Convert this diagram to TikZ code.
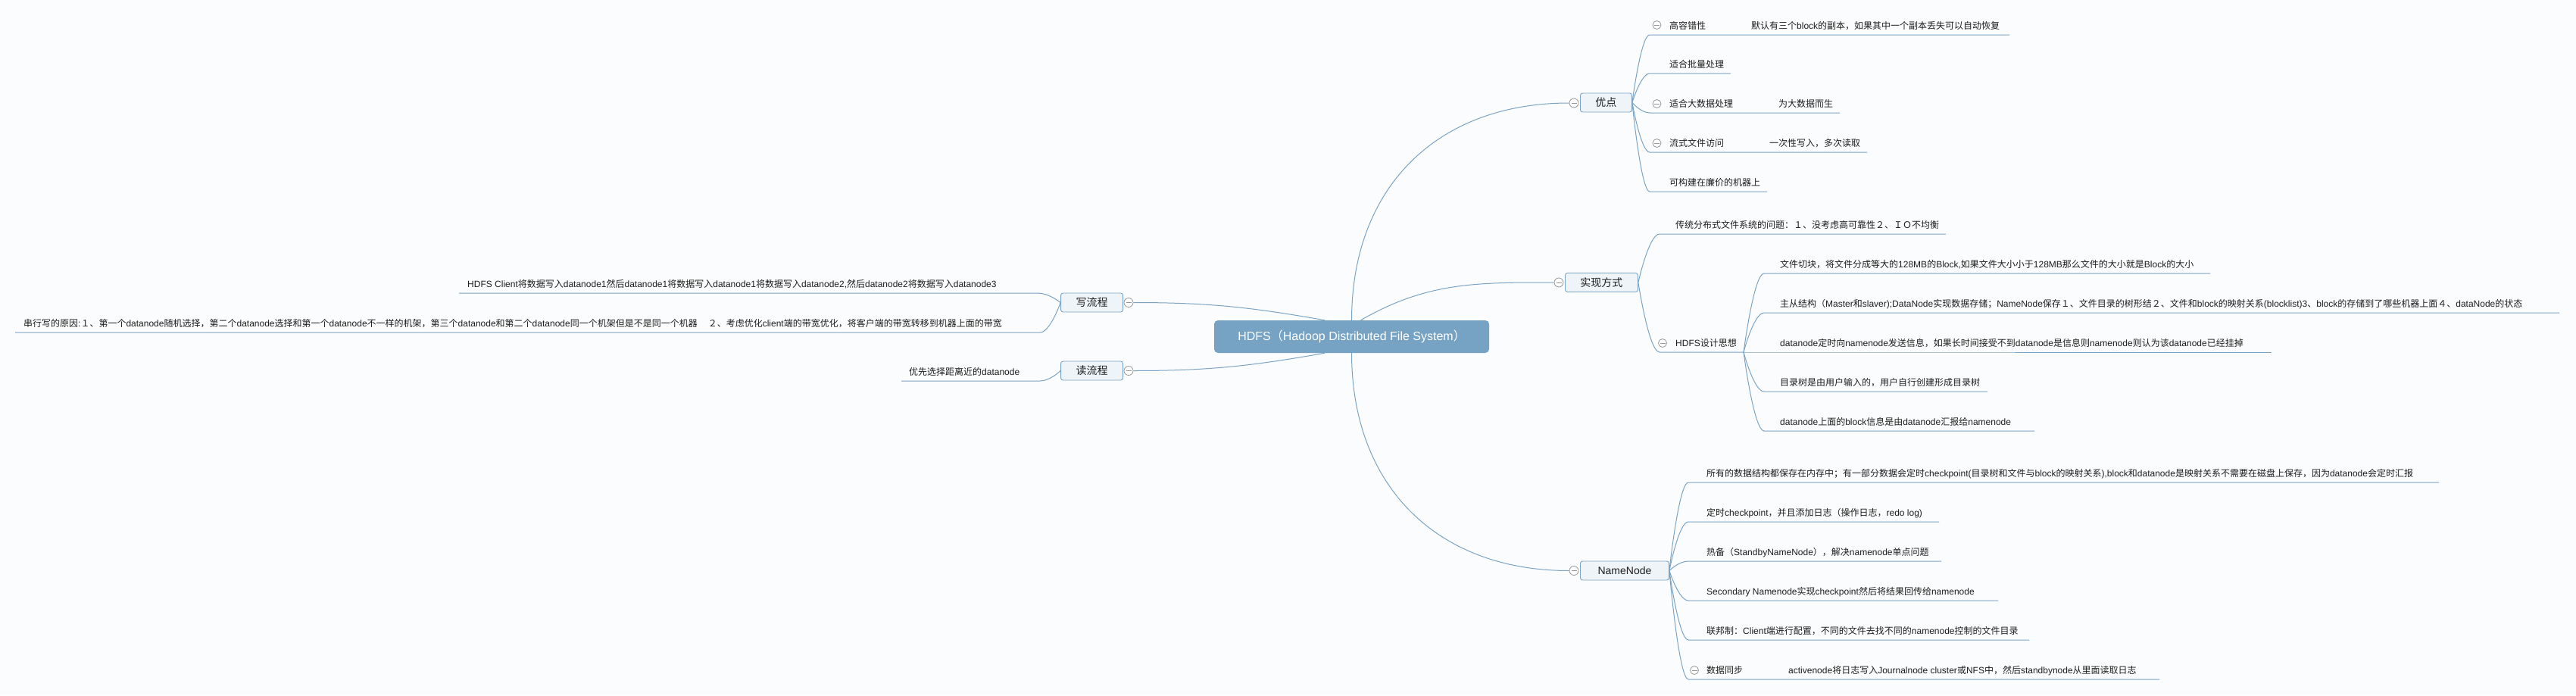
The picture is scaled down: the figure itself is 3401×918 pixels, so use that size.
\documentclass[tikz,border=0pt]{standalone}
\usepackage{fontspec}
\setmainfont{Liberation Sans}
\newfontfamily\cjkfont{Noto Sans CJK SC}
\newfontfamily\latinfont{Liberation Sans}
\XeTeXinterchartokenstate=1
\chardef\cjkclass=7
\newcount\cjkcode
\def\cjkrange#1#2{\cjkcode=#1\relax
  \loop\XeTeXcharclass\cjkcode=\cjkclass
  \advance\cjkcode by 1
  \ifnum\cjkcode<#2\repeat}
\cjkrange{"3000}{"3040}
\cjkrange{"4E00}{"A000}
\cjkrange{"FF00}{"FFF0}
\XeTeXinterchartoks 0 \cjkclass={\cjkfont}
\XeTeXinterchartoks 4095 \cjkclass={\cjkfont}
\XeTeXinterchartoks \cjkclass 0={\latinfont}
\XeTeXinterchartoks \cjkclass 4095={\latinfont}
\usepackage{tikz}
\usetikzlibrary{calc}
\definecolor{lnk}{RGB}{122,163,196}
\definecolor{hubc}{RGB}{118,163,195}
\definecolor{boxc}{RGB}{239,244,248}
\definecolor{ink}{RGB}{30,30,30}
\definecolor{bgc}{RGB}{251,252,253}
\definecolor{foldc}{RGB}{150,150,150}

\begin{document}
\begin{tikzpicture}[x=1pt,y=1pt,
  link/.style={draw=lnk,line width=1pt},
  hub/.style={fill=hubc,rounded corners=5pt,text=white,minimum width=363pt,minimum height=43pt,font=\fontsize{16}{18}\selectfont},
  topic/.style={draw=lnk,fill=boxc,rounded corners=3pt,line width=0.9pt,inner xsep=20pt,minimum height=25pt,text=ink,font=\fontsize{14}{16}\selectfont},
  fold/.style={circle,draw=foldc,fill=white,line width=0.8pt,minimum size=11pt,inner sep=0pt,
    path picture={\draw[foldc,line width=0.8pt] ([xshift=-3.5pt]path picture bounding box.center) -- ([xshift=3.5pt]path picture bounding box.center);}},
  leaf/.style={anchor=base west,inner sep=0pt,text=ink,font=\fontsize{12}{14}\selectfont},
  kid/.style={to path={.. controls (\tikztostart) and ($(\tikztotarget)!0.5!(\tikztostart|-\tikztotarget)$) .. (\tikztotarget) \tikztonodes}}]
\fill[bgc] (0,0) rectangle (3401,-918);
\useasboundingbox (0,0) rectangle (3401,-918);

\node[hub] (H) at (1784.5,-444.5) {HDFS（Hadoop Distributed File System）};

\node[fold,minimum size=12pt] (Yf) at (2078,-136) {};
\node[topic,anchor=west] (Y) at (2086,-135.5) {优点};
\node[fold,minimum size=12pt] (Sf) at (2058,-373) {};
\node[topic,anchor=west] (S) at (2066,-373) {实现方式};
\node[fold,minimum size=12pt] (Nf) at (2078,-753.5) {};
\node[topic,anchor=west,minimum width=117pt] (N) at (2086,-753.5) {NameNode};
\node[fold,minimum size=12pt] (Wf) at (1490,-399.5) {};
\node[topic,anchor=east] (W) at (1483,-399.5) {写流程};
\node[fold,minimum size=12pt] (Rf) at (1490,-489.5) {};
\node[topic,anchor=east] (R) at (1483,-489.5) {读流程};

\draw[link] (H.north) to[out=90,in=180,looseness=1.1] (Yf.west);
\draw[link] ([xshift=12pt]H.north) to[out=30,in=180] (Sf.west);
\draw[link] (H.south) to[out=-90,in=180,looseness=1.1] (Nf.west);
\draw[link] ([xshift=-35.5pt]H.north) to[out=170,in=0] (Wf.east);
\draw[link] ([xshift=-35.5pt]H.south) to[out=-170,in=0] (Rf.east);

\coordinate (Y1s) at (2178,-46); \coordinate (Y1e) at (2653,-46);
\coordinate (Y2s) at (2178,-97); \coordinate (Y2e) at (2285,-97);
\coordinate (Y3s) at (2178,-149); \coordinate (Y3e) at (2429,-149);
\coordinate (Y4s) at (2178,-201); \coordinate (Y4e) at (2465,-201);
\coordinate (Y5s) at (2178,-253); \coordinate (Y5e) at (2333,-253);
\draw[link] (Y.east) to[kid] (Y1s) -- (Y1e);
\draw[link] (Y.east) to[kid] (Y2s) -- (Y2e);
\draw[link] (Y.east) to[kid] (Y3s) -- (Y3e);
\draw[link] (Y.east) to[kid] (Y4s) -- (Y4e);
\draw[link] (Y.east) to[kid] (Y5s) -- (Y5e);
\node[fold] (Y1f) at (2187.5,-33) {};
\node[fold] (Y3f) at (2187.5,-137) {};
\node[fold] (Y4f) at (2187.5,-189) {};
\node[leaf] (Y1) at (2204,-38) {高容错性};
\node[leaf] (Y1a) at (2312,-38) {默认有三个block的副本，如果其中一个副本丢失可以自动恢复};
\node[leaf] (Y2) at (2204,-89) {适合批量处理};
\node[leaf] (Y3) at (2204,-141) {适合大数据处理};
\node[leaf] (Y3a) at (2348,-141) {为大数据而生};
\node[leaf] (Y4) at (2204,-193) {流式文件访问};
\node[leaf] (Y4a) at (2336,-193) {一次性写入，多次读取};
\node[leaf] (Y5) at (2204,-245) {可构建在廉价的机器上};

\coordinate (S1s) at (2191,-309); \coordinate (S1e) at (2569,-309);
\coordinate (S2s) at (2191,-465); \coordinate (S2e) at (2302,-465);
\draw[link] (S.east) to[kid] (S1s) -- (S1e);
\draw[link] (S.east) to[kid] (S2s) -- (S2e);
\node[fold] (S2f) at (2195,-453) {};
\node[leaf] (S1) at (2212,-301) {传统分布式文件系统的问题：１、没考虑高可靠性２、ＩＯ不均衡};
\node[leaf] (S2) at (2212,-457) {HDFS设计思想};

\coordinate (G1s) at (2329,-361); \coordinate (G1e) at (2918,-361);
\coordinate (G2s) at (2329,-413); \coordinate (G2e) at (3379,-413);
\coordinate (G3s) at (2329,-465); \coordinate (G3e) at (2999,-465);
\coordinate (G4s) at (2329,-517); \coordinate (G4e) at (2624,-517);
\coordinate (G5s) at (2329,-569); \coordinate (G5e) at (2686,-569);
\draw[link] (S2e) to[kid] (G1s) -- (G1e);
\draw[link] (S2e) to[kid] (G2s) -- (G2e);
\draw[link] (S2e) to[kid] (G3s) -- (G3e);
\draw[link] (S2e) to[kid] (G4s) -- (G4e);
\draw[link] (S2e) to[kid] (G5s) -- (G5e);
\node[leaf] (G1) at (2350,-353) {文件切块，将文件分成等大的128MB的Block,如果文件大小小于128MB那么文件的大小就是Block的大小};
\node[leaf] (G2) at (2350,-405) {主从结构（Master和slaver);DataNode实现数据存储；NameNode保存１、文件目录的树形结２、文件和block的映射关系(blocklist)3、block的存储到了哪些机器上面４、dataNode的状态};
\node[leaf] (G3) at (2350,-457) {datanode定时向namenode发送信息，如果长时间接受不到datanode是信息则namenode则认为该datanode已经挂掉};
\node[leaf] (G4) at (2350,-509) {目录树是由用户输入的，用户自行创建形成目录树};
\node[leaf] (G5) at (2350,-561) {datanode上面的block信息是由datanode汇报给namenode};

\coordinate (N1s) at (2229,-637); \coordinate (N1e) at (3220,-637);
\coordinate (N2s) at (2229,-689); \coordinate (N2e) at (2560,-689);
\coordinate (N3s) at (2229,-741); \coordinate (N3e) at (2563,-741);
\coordinate (N4s) at (2229,-793); \coordinate (N4e) at (2638,-793);
\coordinate (N5s) at (2229,-845); \coordinate (N5e) at (2679,-845);
\coordinate (N6s) at (2229,-897); \coordinate (N6e) at (2851,-897);
\draw[link] (N.east) to[kid] (N1s) -- (N1e);
\draw[link] (N.east) to[kid] (N2s) -- (N2e);
\draw[link] (N.east) to[kid] (N3s) -- (N3e);
\draw[link] (N.east) to[kid] (N4s) -- (N4e);
\draw[link] (N.east) to[kid] (N5s) -- (N5e);
\draw[link] (N.east) to[kid] (N6s) -- (N6e);
\node[fold] (N6f) at (2237,-885) {};
\node[leaf] (N1) at (2253,-629) {所有的数据结构都保存在内存中；有一部分数据会定时checkpoint(目录树和文件与block的映射关系),block和datanode是映射关系不需要在磁盘上保存，因为datanode会定时汇报};
\node[leaf] (N2) at (2253,-681) {定时checkpoint，并且添加日志（操作日志，redo log)};
\node[leaf] (N3) at (2253,-733) {热备（StandbyNameNode），解决namenode单点问题};
\node[leaf] (N4) at (2253,-785) {Secondary Namenode实现checkpoint然后将结果回传给namenode};
\node[leaf] (N5) at (2253,-837) {联邦制：Client端进行配置，不同的文件去找不同的namenode控制的文件目录};
\node[leaf] (N6) at (2253,-889) {数据同步};
\node[leaf] (N6a) at (2361,-889) {activenode将日志写入Journalnode cluster或NFS中，然后standbynode从里面读取日志};

\coordinate (W1s) at (1370,-387); \coordinate (W1e) at (606,-387);
\coordinate (W2s) at (1373,-439); \coordinate (W2e) at (20,-439);
\coordinate (R1s) at (1373,-503); \coordinate (R1e) at (1190,-503);
\draw[link] (W.west) to[kid] (W1s) -- (W1e);
\draw[link] (W.west) to[kid] (W2s) -- (W2e);
\draw[link] (R.west) to[kid] (R1s) -- (R1e);
\node[leaf] (W1) at (617,-379) {HDFS Client将数据写入datanode1然后datanode1将数据写入datanode1将数据写入datanode2,然后datanode2将数据写入datanode3};
\node[leaf] (W2) at (31,-431) {串行写的原因:１、第一个datanode随机选择，第二个datanode选择和第一个datanode不一样的机架，第三个datanode和第二个datanode同一个机架但是不是同一个机器\hspace{14pt}２、考虑优化client端的带宽优化，将客户端的带宽转移到机器上面的带宽};
\node[leaf] (R1) at (1200,-495) {优先选择距离近的datanode};
\end{tikzpicture}
\end{document}
